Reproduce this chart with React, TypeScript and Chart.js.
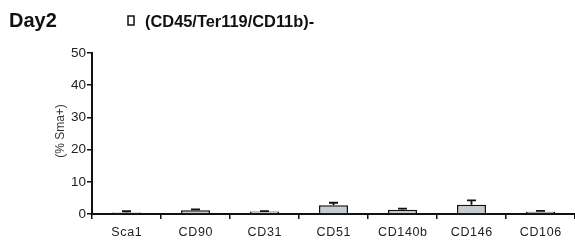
import React, { useEffect, useRef } from "react";
import { Chart, registerables } from "chart.js";

Chart.register(...registerables);

const categories = ["Sca1", "CD90", "CD31", "CD51", "CD140b", "CD146", "CD106"];
const values = [0.5, 1.15, 0.8, 2.7, 1.35, 2.9, 0.7];
const errors = [0.35, 0.3, 0.1, 0.8, 0.35, 1.35, 0.3];
const yTicks = [0, 10, 20, 30, 40, 50];
const titleText = "Day2";
const legendText = "(CD45/Ter119/CD11b)-";
const yTitle = "(% Sma+)";

export default function App() {
  const ref = useRef<HTMLCanvasElement | null>(null);
  useEffect(() => {
    if (!ref.current) return;
    const textPlugin = {
      id: "texts",
      afterDatasetsDraw(chart: any) {
        const ctx = chart.ctx;
        const meta = chart.getDatasetMeta(0);
        const y = chart.scales.y;
        ctx.save();
        ctx.strokeStyle = "#111";
        ctx.lineWidth = 1.8;
        meta.data.forEach((bar: any, i: number) => {
          const top = y.getPixelForValue(values[i]);
          const e = y.getPixelForValue(values[i] + errors[i]);
          ctx.beginPath();
          ctx.moveTo(bar.x, top);
          ctx.lineTo(bar.x, e);
          ctx.moveTo(bar.x - 4.5, e);
          ctx.lineTo(bar.x + 4.5, e);
          ctx.stroke();
        });
        ctx.restore();
      },
      afterDraw(chart: any) {
        const ctx = chart.ctx;
        const x = chart.scales.x;
        ctx.save();
        ctx.fillStyle = "#222";
        ctx.font = "12.5px Arial";
        (ctx as any).letterSpacing = "0.6px";
        ctx.textAlign = "center";
        ctx.textBaseline = "alphabetic";
        categories.forEach((c, i) => {
          ctx.fillText(c, x.getPixelForValue(i) + 0.3, 236);
        });
        (ctx as any).letterSpacing = "0px";
        // title
        ctx.fillStyle = "#111";
        ctx.textAlign = "left";
        ctx.font = "bold 20px Arial";
        ctx.fillText(titleText, 9, 27);
        ctx.font = "bold 16.4px Arial";
        ctx.fillText(legendText, 145, 27);
        ctx.strokeStyle = "#111";
        ctx.lineWidth = 1.5;
        ctx.strokeRect(128, 16, 6, 9);
        // y title
        ctx.save();
        ctx.translate(63.5, 131);
        ctx.rotate(-Math.PI / 2);
        ctx.textAlign = "center";
        ctx.fillStyle = "#333";
        ctx.font = "12px Arial";
        ctx.fillText(yTitle, 0, 0);
        ctx.restore();
        ctx.restore();
      },
    };
    const chart = new Chart(ref.current, {
      type: "bar",
      data: {
        labels: categories,
        datasets: [
          {
            data: values,
            backgroundColor: "#c5cbd3",
            borderColor: "#111",
            borderWidth: 1.5,
            categoryPercentage: 1,
            barPercentage: 0.42,
          },
        ],
      },
      options: {
        responsive: false,
        animation: false,
        layout: { padding: { top: 53, right: 0, left: 0, bottom: 0 } },
        plugins: { legend: { display: false }, tooltip: { enabled: false } },
        scales: {
          x: {
            offset: true,
            grid: { drawOnChartArea: false, tickLength: 5, color: "#111", lineWidth: 1.5, offset: true },
            border: { display: true, color: "#111", width: 2 },
            ticks: { color: "rgba(0,0,0,0)", font: { size: 12, family: "Arial" } },
            afterFit: (s: any) => {
              s.height = 27;
            },
          },
          y: {
            min: 0,
            max: 50,
            afterBuildTicks: (s: any) => {
              s.ticks = yTicks.map((v) => ({ value: v }));
            },
            grid: { drawOnChartArea: false, tickLength: 5, color: "#111", lineWidth: 1.5 },
            border: { display: true, color: "#111", width: 2 },
            ticks: { color: "#222", font: { size: 13.5, family: "Arial" }, padding: 1 },
            afterFit: (s: any) => {
              s.width = 92;
            },
          },
        },
      },
      plugins: [textPlugin],
    });
    return () => chart.destroy();
  }, []);
  return (
    <div style={{ position: "fixed", left: 0, top: 0, width: 575, height: 241, background: "#fff" }}>
      <canvas ref={ref} width={575} height={241} />
    </div>
  );
}
